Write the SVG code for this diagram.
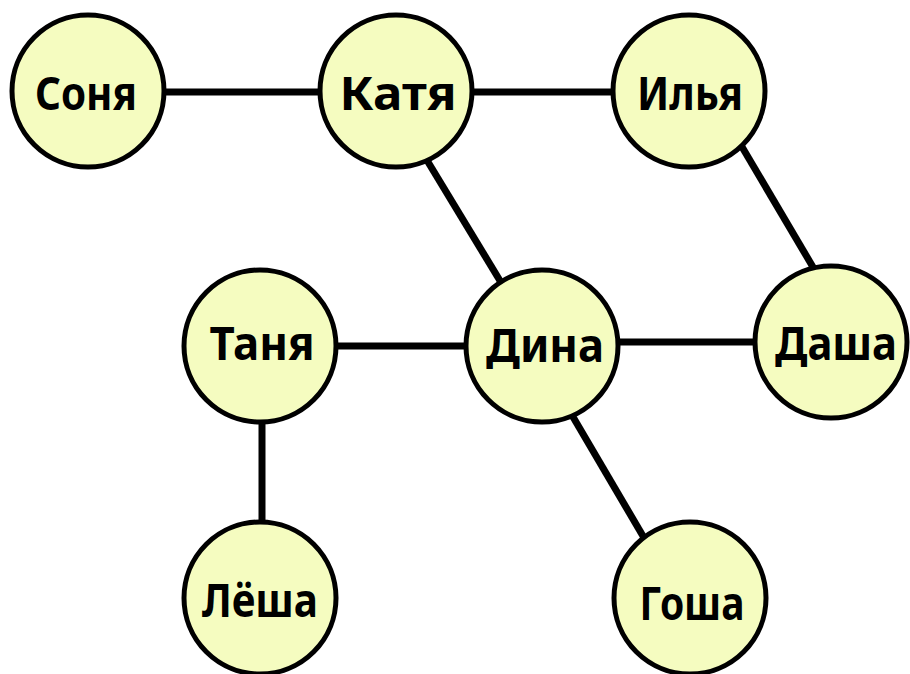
<svg xmlns="http://www.w3.org/2000/svg" width="910" height="674" viewBox="0 0 910 674">
<style>
.edge{stroke:#000;stroke-width:7;fill:none}
.node circle{fill:#F5FCC0;stroke:#000;stroke-width:5}
.node text{font-family:"Noto Sans","DejaVu Sans",sans-serif;font-weight:bold;font-size:46px;fill:#000;text-anchor:middle}
</style>
<rect width="910" height="674" fill="#fff"/>
<g id="connectors">
<line class="edge" x1="150" y1="92" x2="335" y2="92"/>
<line class="edge" x1="460" y1="92" x2="625" y2="92"/>
<line class="edge" x1="425" y1="157" x2="505" y2="289"/>
<line class="edge" x1="735" y1="135" x2="820" y2="279"/>
<line class="edge" x1="320" y1="346" x2="480" y2="346"/>
<line class="edge" x1="600" y1="342" x2="775" y2="342"/>
<line class="edge" x1="262" y1="410" x2="262" y2="535"/>
<line class="edge" x1="566" y1="405" x2="650" y2="548"/>
</g>
<g id="node-sonya" class="node"><circle cx="88" cy="91" r="76"/><text x="86" y="110" textLength="102" lengthAdjust="spacingAndGlyphs">Соня</text></g>
<g id="node-katya" class="node"><circle cx="396" cy="91" r="76"/><text x="398" y="110" textLength="117" lengthAdjust="spacingAndGlyphs">Катя</text></g>
<g id="node-ilya" class="node"><circle cx="689" cy="91" r="76"/><text x="690" y="110" textLength="106" lengthAdjust="spacingAndGlyphs">Илья</text></g>
<g id="node-tanya" class="node"><circle cx="260" cy="346" r="76"/><text x="262" y="360" textLength="105" lengthAdjust="spacingAndGlyphs">Таня</text></g>
<g id="node-dina" class="node"><circle cx="542" cy="346" r="76"/><text x="545" y="362" textLength="118" lengthAdjust="spacingAndGlyphs">Дина</text></g>
<g id="node-dasha" class="node"><circle cx="831" cy="342" r="76"/><text x="836" y="360" textLength="122" lengthAdjust="spacingAndGlyphs">Даша</text></g>
<g id="node-lyosha" class="node"><circle cx="260" cy="598" r="76"/><text x="260" y="617" textLength="116" lengthAdjust="spacingAndGlyphs">Лёша</text></g>
<g id="node-gosha" class="node"><circle cx="690" cy="598" r="76"/><text x="692" y="620" textLength="105" lengthAdjust="spacingAndGlyphs">Гоша</text></g>
</svg>
